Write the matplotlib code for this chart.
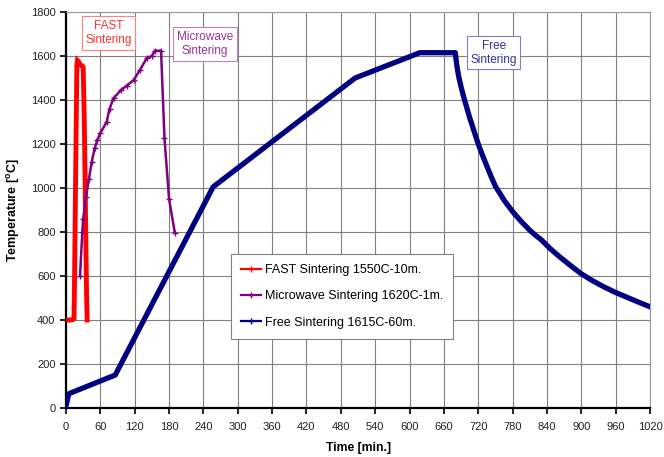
import matplotlib
matplotlib.use("Agg")
import matplotlib.pyplot as plt
from matplotlib.lines import Line2D

plt.rcParams["font.family"] = ["Liberation Sans", "DejaVu Sans"]

# ---------------- data ----------------
fast_t = [0, 5, 10, 14, 15, 17, 19, 20, 22, 24, 26, 28, 30, 32, 34, 36, 37]
fast_T = [400, 400, 400, 405, 600, 1100, 1560, 1580, 1575, 1560, 1558, 1556, 1550, 1300, 900, 500, 400]

mw_t = [24.5, 28.5, 30, 35, 40, 45, 50, 55, 60, 71, 76, 83, 96, 106, 118, 129, 141, 150,
        155, 166, 172, 180, 190]
mw_T = [600, 800, 860, 960, 1040, 1120, 1180, 1220, 1250, 1300, 1360, 1408, 1445, 1465,
        1490, 1536, 1590, 1600, 1624, 1624, 1226, 950, 797]

free_t = [0, 5, 86, 257, 505, 618, 680, 681, 683, 686, 690, 695, 700, 705, 710, 715, 720,
          728, 735, 742, 750, 758, 765, 780, 795, 810, 820, 830, 845, 860, 880, 900, 920,
          940, 960, 980, 1000, 1020]
free_T = [10, 65, 150, 1005, 1500, 1615, 1615, 1590, 1550, 1505, 1460, 1410, 1365, 1320,
          1280, 1240, 1200, 1145, 1100, 1055, 1008, 975, 945, 893, 848, 808, 785, 765, 726,
          692, 650, 610, 578, 550, 525, 503, 481, 460]

labels = ["FAST Sintering 1550C-10m.",
          "Microwave Sintering 1620C-1m.",
          "Free Sintering 1615C-60m."]
colors = ["#FF0000", "#800080", "#000080"]

x_ticks = list(range(0, 1021, 60))
y_ticks = list(range(0, 1801, 200))

# ---------------- plot ----------------
fig = plt.figure(figsize=(6.64, 4.57), dpi=100)
ax = fig.add_axes([66 / 664, 1 - 408 / 457, 584 / 664, 396 / 457])

ax.plot(fast_t, fast_T, color=colors[0], lw=3.5, solid_joinstyle="miter", zorder=3)
ax.plot(mw_t, mw_T, color=colors[1], lw=1.8, marker="+", ms=4, mew=1, zorder=3)
ax.plot(free_t, free_T, color=colors[2], lw=3.8, zorder=3)

ax.set_xlim(0, 1020)
ax.set_ylim(0, 1800)
ax.set_xticks(x_ticks)
ax.set_yticks(y_ticks)
ax.tick_params(labelsize=8, direction="out", length=4, width=1.2, colors="black",
               labelcolor="#222222")
ax.tick_params(axis="x", pad=6)
ax.grid(True, color="#808080", lw=0.8)
ax.set_axisbelow(True)
for s in ["top", "right"]:
    ax.spines[s].set_color("#999999")
    ax.spines[s].set_linewidth(0.8)
for s in ["left", "bottom"]:
    ax.spines[s].set_linewidth(1.6)

ax.set_xlabel("Time [min.]", fontsize=8.7, fontweight="bold", labelpad=7)
ax.set_ylabel(r"Temperature [$^\mathregular{o}$C]", fontsize=9, fontweight="bold", labelpad=6)

# annotations
ax.text(74, 1705, "FAST\nSintering", color="#FF3030", fontsize=8.5, ha="center", va="center",
        linespacing=1.25,
        bbox=dict(boxstyle="square,pad=0.3", fc="white", ec="#FF8080", lw=0.8))
ax.text(243, 1655, "Microwave\nSintering", color="#993399", fontsize=8.5, ha="center",
        va="center", linespacing=1.25,
        bbox=dict(boxstyle="square,pad=0.3", fc="white", ec="#C080C0", lw=0.8))
ax.text(747, 1615, "Free\nSintering", color="#333399", fontsize=8.5, ha="center", va="center",
        linespacing=1.25,
        bbox=dict(boxstyle="square,pad=0.3", fc="white", ec="#8080C0", lw=0.8))

# legend
handles = [Line2D([], [], color=c, lw=1.6, marker="+", ms=5, mew=1) for c in colors]
leg = ax.legend(handles, labels, loc="upper left", bbox_to_anchor=(0.2825, 0.389),
                fontsize=9, fancybox=False, framealpha=1, edgecolor="#808080",
                handlelength=1.6, handletextpad=0.3, labelspacing=1.15,
                borderpad=0.8, borderaxespad=0)
leg.get_frame().set_linewidth(0.8)

fig.savefig("out.png", dpi=100)
